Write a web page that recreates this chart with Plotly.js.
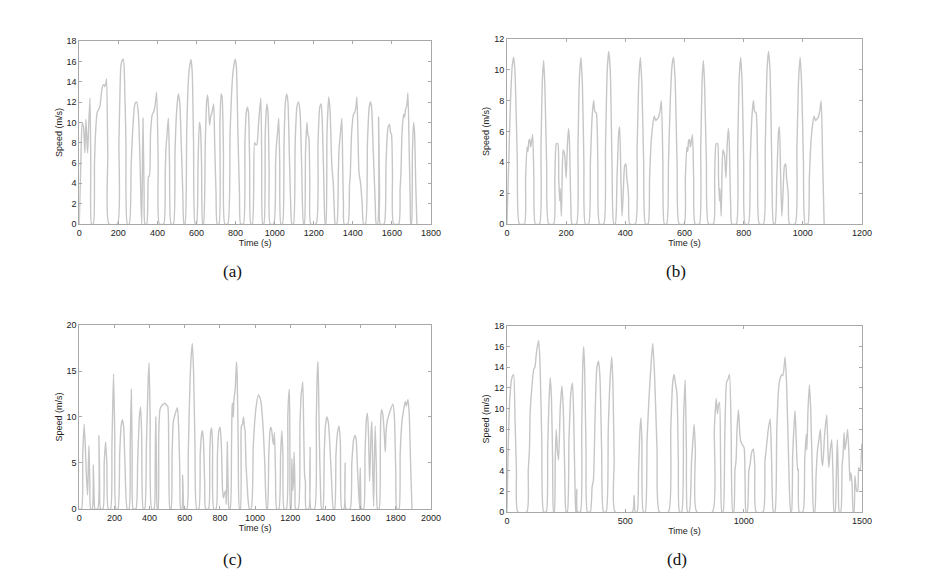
<!DOCTYPE html>
<html><head><meta charset="utf-8">
<script src="https://cdn.plot.ly/plotly-3.0.1.min.js"></script>
<style>html,body{margin:0;padding:0;background:#fff}#chart{width:929px;height:577px}</style>
</head><body><div id="chart"></div>
<script>
// Panel (a)
const aTime = [0,8,15,22,29,34,40,43,48,55,59,63,72,78,85,92,100,106,113,120,127,131,136,140,146,152,195,203,208,213,220,226,232,239,246,256,266,276,285,294,302,310,316,320,326,332,336,345,352,355,359,365,374,380,388,396,404,410,432,440,444,450,456,462,470,482,490,498,507,514,522,530,536,541,550,558,565,572,578,585,593,600,608,615,620,626,632,636,645,652,657,662,667,672,680,688,693,700,706,715,720,726,731,738,745,760,772,783,790,798,804,812,820,826,840,848,855,861,866,872,878,886,897,903,909,918,929,934,939,945,952,960,966,972,977,995,1005,1008,1015,1021,1026,1032,1040,1048,1055,1062,1068,1075,1082,1088,1096,1105,1114,1122,1130,1138,1148,1152,1158,1165,1170,1175,1180,1185,1212,1222,1231,1238,1244,1252,1259,1262,1268,1277,1284,1292,1300,1306,1310,1318,1326,1330,1337,1344,1348,1352,1356,1375,1383,1387,1394,1404,1410,1416,1421,1426,1432,1440,1448,1455,1465,1475,1484,1490,1496,1505,1515,1520,1527,1532,1537,1540,1560,1570,1580,1588,1593,1598,1603,1609,1635,1642,1646,1652,1660,1665,1670,1676,1682,1688,1694,1697,1700,1705,1711,1716,1722,1728];
const aSpeed = [0,6,10,9.5,7,10.3,8,7,9.5,12.4,6,0,0,6,9.5,11,11.3,11.6,12.8,13.6,13.7,13.5,13.8,14.3,7,0,0,8,12.5,15.5,16.1,16.2,14,8,0,0,6,10,11.8,12,11,7,2,0,10.4,3,0,0,3.7,4.7,4.7,9,10.8,11,11.6,13,6,0,0,5,7.5,9,10.4,6,0,0,7,11,12.8,12,8,3,0,0,9,14,15.5,16.2,15,8,0,0,6,10,9.5,6,0,0,8,12,12.7,11.5,9.7,10.5,11,11.8,8,3,0,0,10,12.8,12.5,7,0,0,9,14,15.4,16.2,15.5,9,3,0,0,8,11,11.5,11,6,0,0,8,7.8,7.8,10,12.4,6,0,0,9,11.8,11,5,0,0,6,7.5,9,10.4,6,0,0,8,12,12.8,12,7,2,0,0,8,11.5,12,11,6,0,0,7,10,8.8,8.5,4,0,0,8,11.5,11.8,10,4,0,0,9,12.5,11,6,4,1,0,0,5,7.5,9,10.4,6,2,0,0,3.8,4.8,9,10.8,11,11.5,12.5,9,5,4,2,0,0,8,11.5,12,11.5,7,2,0,0,10.5,3,0,0,6,9.5,9.8,9,8.8,5,0,0,3.5,4.8,9,10.8,10.5,11.3,11.6,12.9,8,2,0,0,7,10,9,4,0];

// Panel (b)
const bTime = [0,6,12,18,23,28,35,42,59,63,68,71,74,77,80,83,87,91,96,110,115,120,124,128,134,141,158,162,167,172,175,178,180,184,187,190,195,200,204,208,211,216,220,235,240,245,250,255,260,265,276,282,288,293,297,302,307,313,327,333,339,344,349,355,361,366,372,378,381,385,389,393,398,402,405,408,411,415,434,440,446,451,456,462,468,477,482,488,494,498,503,507,512,517,522,527,532,
540,546,552,558,563,568,575,582,599,603,608,611,614,617,620,623,627,631,636,650,655,660,664,668,674,681,698,702,707,712,715,718,720,724,727,730,735,740,744,748,751,756,760,775,780,785,790,795,800,805,816,822,828,833,837,842,847,853,867,873,879,884,889,895,901,906,912,918,921,925,929,933,938,942,945,948,951,955,974,980,986,991,996,1002,1008,1017,1022,1028,1034,1038,1043,1047,1052,1057,1062,1067,1072];
const bSpeed = [0,4,8,10.3,10.8,9.5,4,0,0,3,5,4.7,5.4,5.5,5,5.3,5.8,3,0,0,5,9.5,10.6,9,4,0,0,3,5.2,5.2,3,1.5,2.3,0.5,3.5,4.8,4.5,3,5,6.2,5.5,1.2,0,0,5,9.5,10.8,9,4,0,0,4,7,8,7.3,7.2,4,0,0,5,10,11.2,10,4,0,0,3,6,6.3,3,0.5,2,3.8,3.9,3,2.5,1.8,0,0,5,9.5,10.8,9,4,0,0,3,5.5,6.6,7,6.7,6.8,6.9,7.3,8,4,0,
0,4,8,10.3,10.8,9.5,4,0,0,3,5,4.7,5.4,5.5,5,5.3,5.8,3,0,0,5,9.5,10.6,9,4,0,0,3,5.2,5.2,3,1.5,2.3,0.5,3.5,4.8,4.5,3,5,6.2,5.5,1.2,0,0,5,9.5,10.8,9,4,0,0,4,7,8,7.3,7.2,4,0,0,5,10,11.2,10,4,0,0,3,6,6.3,3,0.5,2,3.8,3.9,3,2.5,1.8,0,0,5,9.5,10.8,9,4,0,0,3,5.5,6.6,7,6.7,6.8,6.9,7.3,8,4,0];

// Panel (c)
const cTime = [0,13,20,28,34,40,47,51,55,60,65,74,80,85,89,105,112,116,121,135,142,150,157,165,178,186,195,202,209,220,230,238,245,252,260,273,283,290,296,301,307,322,332,342,349,355,364,372,382,392,397,403,412,425,432,435,440,444,448,452,459,468,478,488,496,503,509,516,522,528,535,545,558,565,572,577,584,588,592,596,612,620,630,638,643,650,658,668,680,688,695,700,706,713,719,735,742,748,753,758,765,778,786,794,801,808,815,820,826,832,836,839,842,847,852,858,866,870,873,876,880,887,894,898,904,911,916,920,922,928,934,939,943,948,953,960,968,978,990,1005,1019,1032,1045,1055,1066,1070,1078,1085,1089,1095,1100,1105,1110,1116,1123,1135,1145,1152,1158,1165,1178,1186,1190,1195,1198,1201,1204,1209,1214,1218,1222,1227,1230,1245,1255,1262,1266,1271,1276,1282,1286,1290,1305,1313,1318,1338,1348,1354,1358,1364,1372,1378,1385,1393,1400,1408,1416,1425,1435,1445,1452,1460,1470,1478,1485,1493,1505,1512,1517,1540,1550,1560,1569,1575,1583,1594,1596,1598,1601,1604,1617,1625,1633,1639,1645,1651,1656,1660,1664,1669,1674,1678,1683,1690,1696,1705,1712,1716,1721,1728,1735,1740,1745,1752,1762,1772,1784,1792,1800,1806,1818,1825,1835,1845,1854,1860,1869,1876,1884,1892];
const cSpeed = [0,0,6,9.2,7,4,1.5,4,6.9,3,0,0,4.8,1,0,0,8,3,0,0,5,7.3,5,0,0,7,14.7,8,0,0,6,9,9.7,9,5,0,0,7,13,6,0,0,5,10,11.1,8,0,0,7,14,15.9,10,0,0,5,10,4,0,0,8,10.8,11.2,11.4,11.5,11.3,11.2,6,0,0,6,9.5,10.3,11,9,4,0,0,3.7,1,0,0,6,14,17,18,15,7,0,0,6,8,8.5,7.5,3,0,0,6,8.5,8.8,7,0,0,6,8.5,8.9,7,2,1.2,1.7,2,0.5,3,7.3,2,0,0,7,11.3,11.5,10,12,13,16,14.5,7,0,0,8,9,9.2,10,9,8.5,5,3.3,1,0,0,7,11,12.4,11.8,9,5,0,0,6,8.5,8.9,8.5,7.5,7,8.3,4,0,0,6,8.5,6,0,0,10,12,13,6,0,0,5.5,2,3,6.2,2,0,0,9,12.5,13,13.8,9,3.5,3,0,0,6.7,0,0,10,15,16,9,2,0,0,6,9,10,9.5,7,3,0,0,6,8.5,9,7,0,0,5,0,0,5,7.5,8,7.5,4,0,3,4.5,1,0,0,6,9.8,10.4,8,3,6,8.5,9.5,4,0.3,5,9,4,0,0,7,10.4,10.8,10,8,6.2,8.5,9.6,10.3,10.9,11.4,10,4,0,0,6,9.5,10.8,11.7,11.2,11.9,10.5,5,0];

// Panel (d)
const dTime = [0,5,12,21,28,34,40,46,84,90,95,98,105,113,118,125,134,140,147,155,166,172,178,183,188,193,197,200,204,208,213,218,225,232,238,244,250,255,262,270,277,282,287,291,292,295,298,310,316,320,324,328,334,340,352,360,365,372,380,387,393,400,408,419,428,436,443,448,453,457,530,537,542,550,556,562,566,570,576,584,592,600,608,616,624,634,644,682,692,700,706,712,718,724,729,738,746,753,758,763,770,780,786,791,796,802,868,876,884,889,894,898,903,908,913,920,928,933,940,947,954,958,963,968,972,978,984,988,995,1002,1006,1010,1015,1022,1027,1034,1041,1047,1053,1082,1090,1095,1104,1112,1118,1126,1132,1140,1150,1161,1166,1175,1182,1190,1199,1202,1207,1212,1217,1222,1228,1231,1235,1250,1258,1264,1267,1272,1278,1283,1290,1296,1300,1306,1312,1318,1324,1330,1334,1342,1351,1356,1360,1366,1372,1378,1382,1386,1390,1393,1396,1400,1404,1410,1416,1420,1424,1428,1434,1439,1444,1449,1453,1458,1463,1466,1470,1474,1478,1482,1486,1492,1499];
const dSpeed = [0,6,11,13,13.3,9,4,0,0,4,6,9.6,12,13.8,14,15.5,16.6,14,7,0,0,6,11,13,11,5,0,0,5,8,6,5,10,12.2,10,4,0,0,7,11.5,12.5,9,3,0,0,2.2,0,0,8,14,16,14,6,0,0,2.5,3,9,14,14.6,13,6,0,0,8,13,15,12,5,0,0,1.6,0,0,4,8,9.1,7,0,0,7,11,14,16.3,13,6,0,0,8,12.5,13.3,12.4,11.5,5,0,0,9,12.8,6,0,0,5,7,8.5,6,0,0,8,11,9.5,10.4,10.6,4,0,0,7,12.6,12.8,13.3,8,0,0,4,5,8,9.9,7.5,6.8,6.5,6.2,3,0,0,4,4.6,5.8,6.1,4.5,0,0,5,6,8,9,5,0,0,8,12.5,13.3,13.2,15,12,5,0,0,5.5,8,9.8,7,4,4.2,0,0,5,7.5,6,10,12.3,10,4,0,0,3.6,6,7,8,5,4.5,7.5,9.4,6,4.3,6,7,3,0,0,2,5,7,3,0,0,4.5,5.5,7.7,6,7,8,6,3,3.8,2.8,0,0,3.5,2.5,2,2,4.3,4,6.6];

const lineStyle = {color:'#c6c6c6', width:1.4, shape:'spline', smoothing:0.6};
const traces = [
  {x:aTime, y:aSpeed, xaxis:'x', yaxis:'y'},
  {x:bTime, y:bSpeed, xaxis:'x2', yaxis:'y2'},
  {x:cTime, y:cSpeed, xaxis:'x3', yaxis:'y3'},
  {x:dTime, y:dSpeed, xaxis:'x4', yaxis:'y4'}
].map(t => Object.assign(t, {type:'scatter', mode:'lines', line:lineStyle, hoverinfo:'skip', cliponaxis:true}));

const tickFont = {family:'Liberation Sans, Arial, sans-serif', size:9, color:'#222'};
function ax(domain, range, dtick, title, anchor) {
  return {domain, range, dtick, anchor, autorange:false, showline:true, linecolor:'#a8a8a8', linewidth:1,
    mirror:'ticks', ticks:'inside', ticklen:3, tickcolor:'#a8a8a8', showgrid:false, zeroline:false,
    tickfont:tickFont, title:{text:title, font:{family:'Liberation Sans, Arial, sans-serif', size:9, color:'#222'}, standoff:2}, automargin:false};
}
const xL = [0.0853, 0.4639], xR = [0.5457, 0.9279];
const layout = {
  width:929, height:577, margin:{l:0,r:0,t:0,b:0}, paper_bgcolor:'#fff', plot_bgcolor:'#fff', showlegend:false,
  xaxis: ax(xL, [0,1800], 200, 'Time (s)', 'y'),
  yaxis: ax([0.6118,0.9289], [0,18], 2, 'Speed (m/s)', 'x'),
  xaxis2: ax(xR, [0,1200], 200, 'Time (s)', 'y2'),
  yaxis2: ax([0.6118,0.9324], [0,12], 2, 'Speed (m/s)', 'x2'),
  xaxis3: ax(xL, [0,2000], 200, 'Time (s)', 'y3'),
  yaxis3: ax([0.1179,0.4367], [0,20], 5, 'Speed (m/s)', 'x3'),
  xaxis4: ax(xR, [0,1500], 500, 'Time (s)', 'y4'),
  yaxis4: ax([0.1127,0.4350], [0,18], 2, 'Speed (m/s)', 'x4'),
  annotations: [
    {text:'(a)', x:0.2508, y:0.5286},
    {text:'(b)', x:0.7277, y:0.5286},
    {text:'(c)', x:0.2508, y:0.0295},
    {text:'(d)', x:0.7287, y:0.0295}
  ].map(a => Object.assign(a, {xref:'paper', yref:'paper', showarrow:false, xanchor:'center', yanchor:'middle',
     font:{family:'Liberation Serif, DejaVu Serif, serif', size:17, color:'#111'}}))
};
Plotly.newPlot('chart', traces, layout, {staticPlot:true, displayModeBar:false});
</script>
</body></html>
